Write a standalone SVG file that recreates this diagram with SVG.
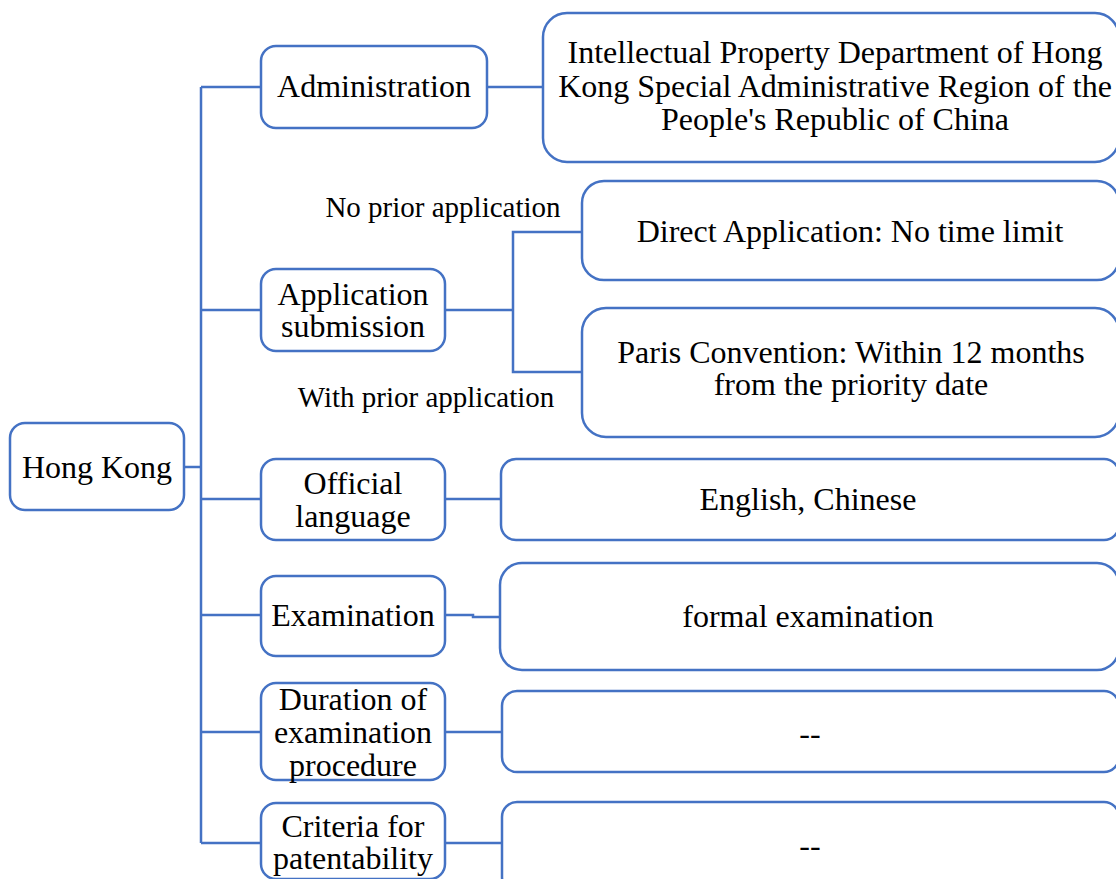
<svg xmlns="http://www.w3.org/2000/svg" width="1116" height="879" viewBox="0 0 1116 879">
<style>
.box{fill:#fff;stroke:#4472C4;stroke-width:2.5}
.ln{fill:none;stroke:#4472C4;stroke-width:2.5}
text{font-family:"Liberation Serif","Times New Roman",serif;font-size:32px;fill:#000;text-anchor:middle}
.lbl{font-size:29px}
</style>
<rect width="1116" height="879" fill="#fff"/>
<g id="connectors">
<path class="ln" d="M184 467H201"/>
<path class="ln" d="M201 87V843"/>
<path class="ln" d="M201 87H261"/>
<path class="ln" d="M487 87H543"/>
<path class="ln" d="M201 310H261"/>
<path class="ln" d="M445 310H513"/>
<path class="ln" d="M582 232H513V372H582"/>
<path class="ln" d="M201 499H261"/>
<path class="ln" d="M445 499H501"/>
<path class="ln" d="M201 615H261"/>
<path class="ln" d="M445 615H473V617H500"/>
<path class="ln" d="M201 732H261"/>
<path class="ln" d="M445 732H502"/>
<path class="ln" d="M201 843H261"/>
<path class="ln" d="M445 843H502"/>
</g>
<g id="hongkong"><rect class="box" x="10" y="423" width="174" height="87" rx="15"/><text x="97" y="478">Hong Kong</text></g>
<g id="administration"><rect class="box" x="261" y="46" width="226" height="82" rx="15"/><text x="374" y="97">Administration</text></g>
<g id="ipd"><rect class="box" x="543" y="13" width="576" height="149" rx="24"/><text x="835" y="63">Intellectual Property Department of Hong</text><text x="835" y="97">Kong Special Administrative Region of the</text><text x="835" y="130">People's Republic of China</text></g>
<g id="application"><rect class="box" x="261" y="269" width="184" height="82" rx="15"/><text x="353" y="305">Application</text><text x="353" y="337">submission</text></g>
<g id="label-no-prior"><text class="lbl" x="443" y="217">No prior application</text></g>
<g id="label-with-prior"><text class="lbl" x="426" y="407">With prior application</text></g>
<g id="direct"><rect class="box" x="582" y="181" width="537" height="99" rx="22"/><text x="850" y="242">Direct Application: No time limit</text></g>
<g id="paris"><rect class="box" x="582" y="308" width="537" height="129" rx="24"/><text x="851" y="363">Paris Convention: Within 12 months</text><text x="851" y="395">from the priority date</text></g>
<g id="official"><rect class="box" x="261" y="459" width="184" height="81" rx="15"/><text x="353" y="494">Official</text><text x="353" y="527">language</text></g>
<g id="languages"><rect class="box" x="501" y="459" width="618" height="81" rx="15"/><text x="808" y="510">English, Chinese</text></g>
<g id="examination"><rect class="box" x="261" y="576" width="184" height="80" rx="15"/><text x="353" y="626">Examination</text></g>
<g id="formal"><rect class="box" x="500" y="563" width="619" height="107" rx="22"/><text x="808" y="627">formal examination</text></g>
<g id="duration"><rect class="box" x="261" y="683" width="184" height="97" rx="15"/><text x="353" y="710">Duration of</text><text x="353" y="743">examination</text><text x="353" y="776">procedure</text></g>
<g id="duration-value"><rect class="box" x="502" y="691" width="617" height="81" rx="15"/><text x="810" y="744">--</text></g>
<g id="criteria"><rect class="box" x="261" y="803" width="184" height="76" rx="15"/><text x="353" y="837">Criteria for</text><text x="353" y="869">patentability</text></g>
<g id="criteria-value"><rect class="box" x="502" y="802" width="617" height="90" rx="15"/><text x="810" y="856">--</text></g>
</svg>
